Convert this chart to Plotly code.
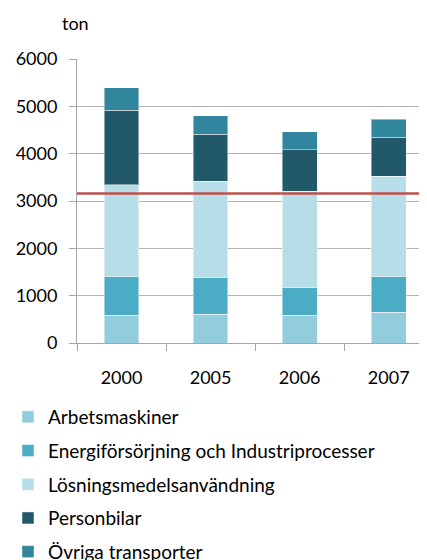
import plotly.graph_objects as go

years = ["2000", "2005", "2006", "2007"]
arbetsmaskiner = [590, 605, 585, 655]
energi = [810, 770, 580, 745]
losning = [1940, 2040, 2045, 2125]
personbilar = [1575, 995, 875, 825]
ovriga = [475, 390, 375, 375]
target_level = 3160

series = [
    ("Arbetsmaskiner", arbetsmaskiner, "#93CDDD"),
    ("Energiförsörjning och Industriprocesser", energi, "#4BACC6"),
    ("Lösningsmedelsanvändning", losning, "#B7DEE8"),
    ("Personbilar", personbilar, "#215968"),
    ("Övriga transporter", ovriga, "#31859C"),
]

FONT = "Lato"
# the page body adds an 8px margin, so the figure is drawn 8px smaller / shifted
W, H = 419, 552
ML, MR, MT, MB = 69, 0, 51, 217
PW, PH = W - ML - MR, H - MT - MB

fig = go.Figure()
for i, (name, vals, col) in enumerate(series):
    fig.add_trace(go.Bar(
        x=years, y=vals, name=name, legendgroup=f"g{i}",
        marker=dict(color=col, line=dict(color="rgba(255,255,255,0.45)", width=1)),
        width=0.39,
    ))

fig.add_shape(type="line", xref="paper", x0=0, x1=1, yref="y", y0=target_level, y1=target_level,
              line=dict(color="#C0504D", width=2.5))

fig.update_layout(
    width=W, height=H,
    barmode="stack",
    margin=dict(l=ML, r=MR, t=MT, b=MB, autoexpand=False),
    paper_bgcolor="white", plot_bgcolor="white",
    font=dict(family=FONT, size=18, color="#000000"),
    showlegend=True,
    legend=dict(
        traceorder="grouped", orientation="v",
        xref="container", yref="container",
        x=0, y=1 - 390/H, xanchor="left", yanchor="top",
        tracegroupgap=6, itemwidth=30,
        font=dict(family=FONT, size=19, color="#000000"),
        bgcolor="rgba(0,0,0,0)",
    ),
    xaxis=dict(
        type="category", range=[-0.5, 3.43], automargin=False,
        showgrid=False, showline=True, linecolor="#a6a6a6", linewidth=1,
        ticks="outside", ticklen=7, tickcolor="#a6a6a6", tickson="boundaries",
        ticklabelstandoff=18, tickangle=0,
        tickfont=dict(family=FONT, size=18, color="#000000"),
    ),
    yaxis=dict(
        range=[0, 6000], dtick=1000, tick0=0, automargin=False,
        showgrid=True, gridcolor="#b4b4b4", gridwidth=1,
        showline=True, linecolor="#a6a6a6", linewidth=1,
        ticks="outside", ticklen=7, tickcolor="#a6a6a6",
        ticklabelstandoff=8, zeroline=False,
        tickfont=dict(family=FONT, size=18, color="#000000"),
    ),
    annotations=[dict(text="ton", xref="paper", yref="paper",
                      x=(52 - ML) / PW, y=(H - MB - 15) / PH,
                      xanchor="left", yanchor="middle", showarrow=False,
                      font=dict(family=FONT, size=18, color="#000000"))],
)

fig.write_html("out.html")
